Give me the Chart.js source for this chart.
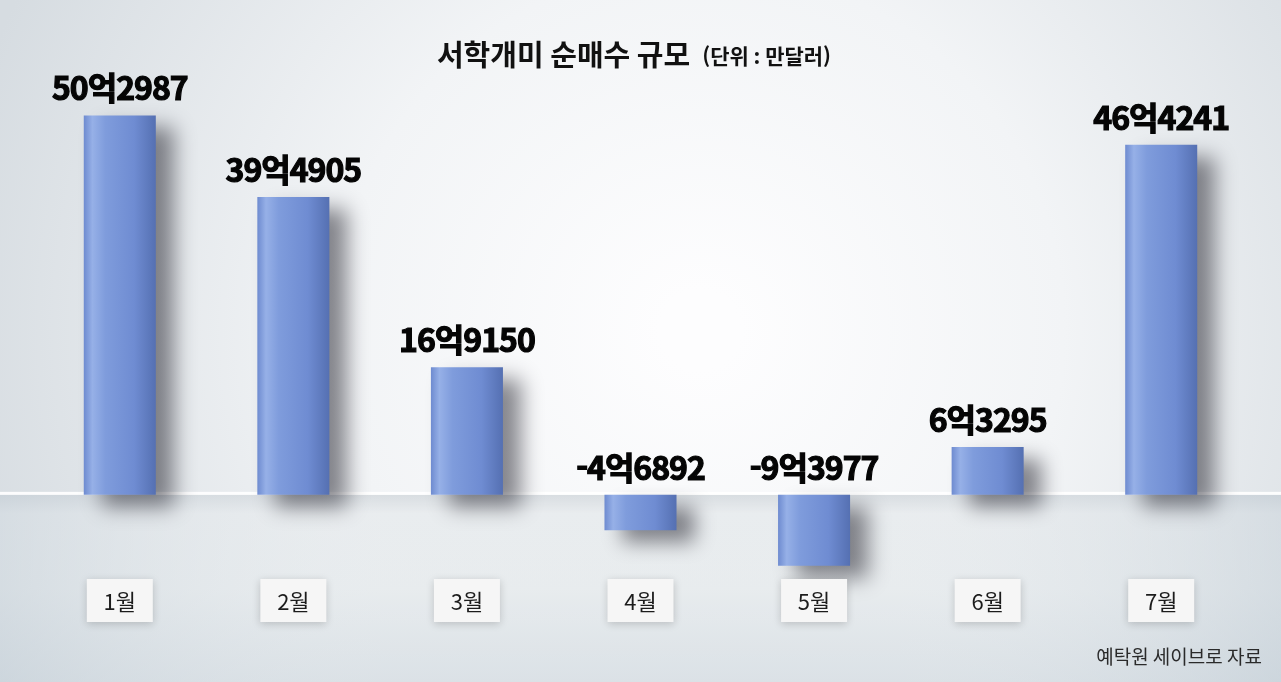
<!DOCTYPE html>
<html lang="ko">
<head>
<meta charset="utf-8">
<title>서학개미 순매수 규모</title>
<script src="https://cdn.jsdelivr.net/npm/chart.js@4.4.1/dist/chart.umd.min.js"></script>
<style>
  html, body { margin: 0; padding: 0; background: #eef1f3; }
  #wrap { width: 1281px; height: 682px; position: relative; }
</style>
</head>
<body>
<div id="wrap"><canvas id="chart" width="1281" height="682"></canvas></div>
<script>
// 데이터 (단위: 만달러)
const months = ["1월", "2월", "3월", "4월", "5월", "6월", "7월"];
const netBuy = [502987, 394905, 169150, -46892, -93977, 63295, 464241];
const valueLabels = ["50억2987", "39억4905", "16억9150", "-4억6892", "-9억3977", "6억3295", "46억4241"];

const titleText = "서학개미 순매수 규모";
const unitText = "(단위 : 만달러)";
const sourceText = "예탁원 세이브로 자료";

const FONT = "'Noto Sans CJK KR', 'Noto Sans', sans-serif";

// 배경 + 바닥
const backdrop = {
    id: "backdrop",
    beforeDraw(chart) {
        const { ctx, width, height } = chart;
        const zeroY = chart.scales.y.getPixelForValue(0);
        ctx.save();
        let g = ctx.createRadialGradient(700, 330, 40, 700, 330, 760);
        g.addColorStop(0, "#fdfdfe");
        g.addColorStop(0.45, "#f2f4f6");
        g.addColorStop(1, "#d6dce1");
        ctx.fillStyle = g;
        ctx.fillRect(0, 0, width, height);

        // 바닥면
        let f = ctx.createLinearGradient(0, zeroY, 0, height);
        f.addColorStop(0, "#cfd5da");
        f.addColorStop(0.1, "#e4e8eb");
        f.addColorStop(0.5, "#e2e7ea");
        f.addColorStop(1, "#d2dae0");
        ctx.fillStyle = f;
        ctx.fillRect(0, zeroY, width, height - zeroY);
        let side = ctx.createLinearGradient(0, 0, width, 0);
        side.addColorStop(0, "rgba(200,210,218,0.5)");
        side.addColorStop(0.3, "rgba(255,255,255,0.2)");
        side.addColorStop(0.7, "rgba(255,255,255,0.2)");
        side.addColorStop(1, "rgba(200,210,218,0.5)");
        ctx.fillStyle = side;
        ctx.fillRect(0, zeroY, width, height - zeroY);

        // 경계선 하이라이트
        ctx.fillStyle = "rgba(255,255,255,0.9)";
        ctx.fillRect(0, zeroY - 3, width, 3);
        ctx.restore();
    }
};

// 막대 그림자
const barShadow = {
    id: "barShadow",
    beforeDatasetsDraw(chart) {
        const ctx = chart.ctx;
        ctx.save();
        ctx.shadowColor = "rgba(40,40,50,0.55)";
        ctx.shadowBlur = 20;
        ctx.shadowOffsetX = 18;
        ctx.shadowOffsetY = 12;
    },
    afterDatasetsDraw(chart) {
        chart.ctx.restore();
    }
};

// 값 라벨, 월 라벨, 제목, 출처
const textLayer = {
    id: "textLayer",
    afterDatasetsDraw(chart) {
        const { ctx } = chart;
        const x = chart.scales.x;
        const y = chart.scales.y;
        const zeroY = y.getPixelForValue(0);
        ctx.save();

        // 값 라벨
        ctx.fillStyle = "#050505";
        ctx.strokeStyle = "#050505";
        ctx.lineWidth = 1.2;
        ctx.font = "bold 32px " + FONT;
        ctx.letterSpacing = "-1px";
        ctx.textAlign = "center";
        ctx.textBaseline = "alphabetic";
        netBuy.forEach((v, i) => {
            const cx = x.getPixelForValue(i);
            const top = v >= 0 ? y.getPixelForValue(v) : zeroY;
            ctx.fillText(valueLabels[i], cx, top - 15);
            ctx.strokeText(valueLabels[i], cx, top - 15);
        });
        ctx.letterSpacing = "0px";

        // 월 라벨 상자
        months.forEach((m, i) => {
            const cx = x.getPixelForValue(i);
            ctx.save();
            ctx.shadowColor = "rgba(0,0,0,0.18)";
            ctx.shadowBlur = 8;
            ctx.shadowOffsetY = 2;
            ctx.fillStyle = "#f6f6f6";
            ctx.fillRect(cx - 33, 579, 66, 43);
            ctx.restore();
            ctx.fillStyle = "#1c1c1c";
            ctx.font = "22px " + FONT;
            ctx.textBaseline = "middle";
            ctx.fillText(m, cx, 602);
        });

        // 제목
        ctx.textBaseline = "alphabetic";
        ctx.textAlign = "left";
        ctx.font = "bold 29px " + FONT;
        const w1 = ctx.measureText(titleText).width;
        ctx.font = "bold 21px " + FONT;
        const w2 = ctx.measureText(unitText).width;
        const startX = 634 - (w1 + 12 + w2) / 2;
        ctx.font = "bold 29px " + FONT;
        ctx.fillStyle = "#111";
        ctx.fillText(titleText, startX, 66);
        ctx.font = "bold 21px " + FONT;
        ctx.fillText(unitText, startX + w1 + 12, 64);

        // 출처
        ctx.textAlign = "right";
        ctx.font = "19px " + FONT;
        ctx.fillStyle = "#2a2a2a";
        ctx.fillText(sourceText, 1262, 664);
        ctx.restore();
    }
};

function barGradient(context) {
    const chart = context.chart;
    if (!chart.chartArea) return "#7090d4";
    const cx = chart.scales.x.getPixelForValue(context.dataIndex);
    const half = 36;
    const g = chart.ctx.createLinearGradient(cx - half, 0, cx + half, 0);
    g.addColorStop(0, "#6e8bd0");
    g.addColorStop(0.12, "#96b0e7");
    g.addColorStop(0.3, "#7f9cdc");
    g.addColorStop(0.7, "#6f8cd2");
    g.addColorStop(1, "#5570b2");
    return g;
}

new Chart(document.getElementById("chart"), {
    type: "bar",
    data: {
        labels: months,
        datasets: [{
            data: netBuy,
            backgroundColor: barGradient,
            borderWidth: 0,
            barPercentage: 0.83,
            categoryPercentage: 0.5
        }]
    },
    options: {
        responsive: false,
        animation: false,
        layout: { padding: { top: 80, bottom: 74, left: 33, right: 33 } },
        scales: {
            x: { display: false },
            y: { display: false, min: -150000, max: 550000 }
        },
        plugins: {
            legend: { display: false },
            tooltip: { enabled: false },
            title: { display: false }
        }
    },
    plugins: [backdrop, barShadow, textLayer]
});
</script>
</body>
</html>
